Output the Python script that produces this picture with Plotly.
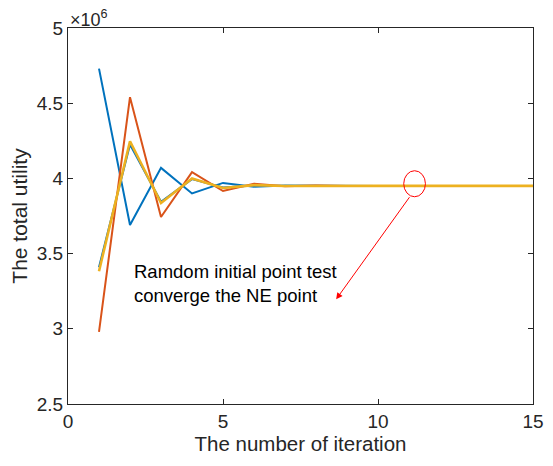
import plotly.graph_objects as go

iterations = list(range(1, 16))
series_a = [4.73, 3.69, 4.07, 3.90, 3.97, 3.945, 3.952, 3.950, 3.950, 3.950, 3.950, 3.950, 3.950, 3.950, 3.950]
series_b = [2.98, 4.54, 3.743, 4.042, 3.916, 3.965, 3.948, 3.952, 3.950, 3.950, 3.950, 3.950, 3.950, 3.950, 3.950]
series_c = [3.383, 4.247, 3.836, 4.00, 3.936, 3.955, 3.949, 3.951, 3.950, 3.950, 3.950, 3.950, 3.950, 3.950, 3.950]
series_d = [3.41, 4.225, 3.845, 3.995, 3.94, 3.953, 3.949, 3.950, 3.950, 3.950, 3.950, 3.950, 3.950, 3.950, 3.950]
scale = 1e6
y_ticks = [2.5, 3, 3.5, 4, 4.5, 5]
y_tick_text = ["2.5", "3", "3.5", "4", "4.5", "5"]
x_ticks = [0, 5, 10, 15]

font_family = "Liberation Sans, Arial, Helvetica, sans-serif"
txt = "#262626"

fig = go.Figure()
fig.add_trace(go.Scatter(x=iterations, y=[v * scale for v in series_d], mode="lines",
                         line=dict(color="#0072BD", width=2), showlegend=False))
fig.add_trace(go.Scatter(x=iterations, y=[v * scale for v in series_a], mode="lines",
                         line=dict(color="#0072BD", width=2), showlegend=False))
fig.add_trace(go.Scatter(x=iterations, y=[v * scale for v in series_b], mode="lines",
                         line=dict(color="#D95319", width=2), showlegend=False))
fig.add_trace(go.Scatter(x=iterations, y=[v * scale for v in series_c], mode="lines",
                         line=dict(color="#EDB120", width=2.6), showlegend=False))

axis_common = dict(showgrid=False, zeroline=False, showline=True, linecolor="#262626",
                   linewidth=1, mirror="ticks", ticks="inside", ticklen=5, tickcolor="#262626",
                   automargin=False, ticklabeloverflow="allow",
                   tickfont=dict(family=font_family, size=19, color=txt))

fig.update_xaxes(range=[0, 15], tickvals=x_ticks,
                 title=dict(text="The number of iteration", font=dict(family=font_family, size=20.5, color=txt),
                            standoff=4),
                 **axis_common)
fig.update_yaxes(range=[2.5 * scale, 5 * scale], tickvals=[v * scale for v in y_ticks], ticktext=y_tick_text,
                 title=dict(text="The total utility", font=dict(family=font_family, size=21, color=txt),
                            standoff=6),
                 **axis_common)

# ellipse
fig.add_shape(type="circle", xref="x", yref="y", x0=10.83, x1=11.53, y0=3.878 * scale, y1=4.051 * scale,
              line=dict(color="#FF0000", width=1))
# arrow
fig.add_annotation(x=8.65, y=3.196 * scale, ax=11.05, ay=3.885 * scale, xref="x", yref="y",
                   axref="x", ayref="y", showarrow=True, arrowhead=2, arrowsize=1.3, arrowwidth=1,
                   arrowcolor="#FF0000", text="")
# text
fig.add_annotation(x=2.08, y=3.302 * scale, xref="x", yref="y", xanchor="left", yanchor="middle",
                   text="Ramdom initial point test<br>converge the NE point", showarrow=False, align="left",
                   font=dict(family=font_family, size=18.5, color="#000000"))
# exponent
fig.add_annotation(x=0, y=1, xref="paper", yref="paper", xanchor="left", yanchor="bottom",
                   text="\u00d710<sup>6</sup>", showarrow=False,
                   font=dict(family=font_family, size=18, color=txt), xshift=0, yshift=-4)

fig.update_layout(width=537, height=450, plot_bgcolor="white", paper_bgcolor="white",
                  margin=dict(l=60, r=12, t=20, b=54), showlegend=False)

fig.write_html("out.html")
